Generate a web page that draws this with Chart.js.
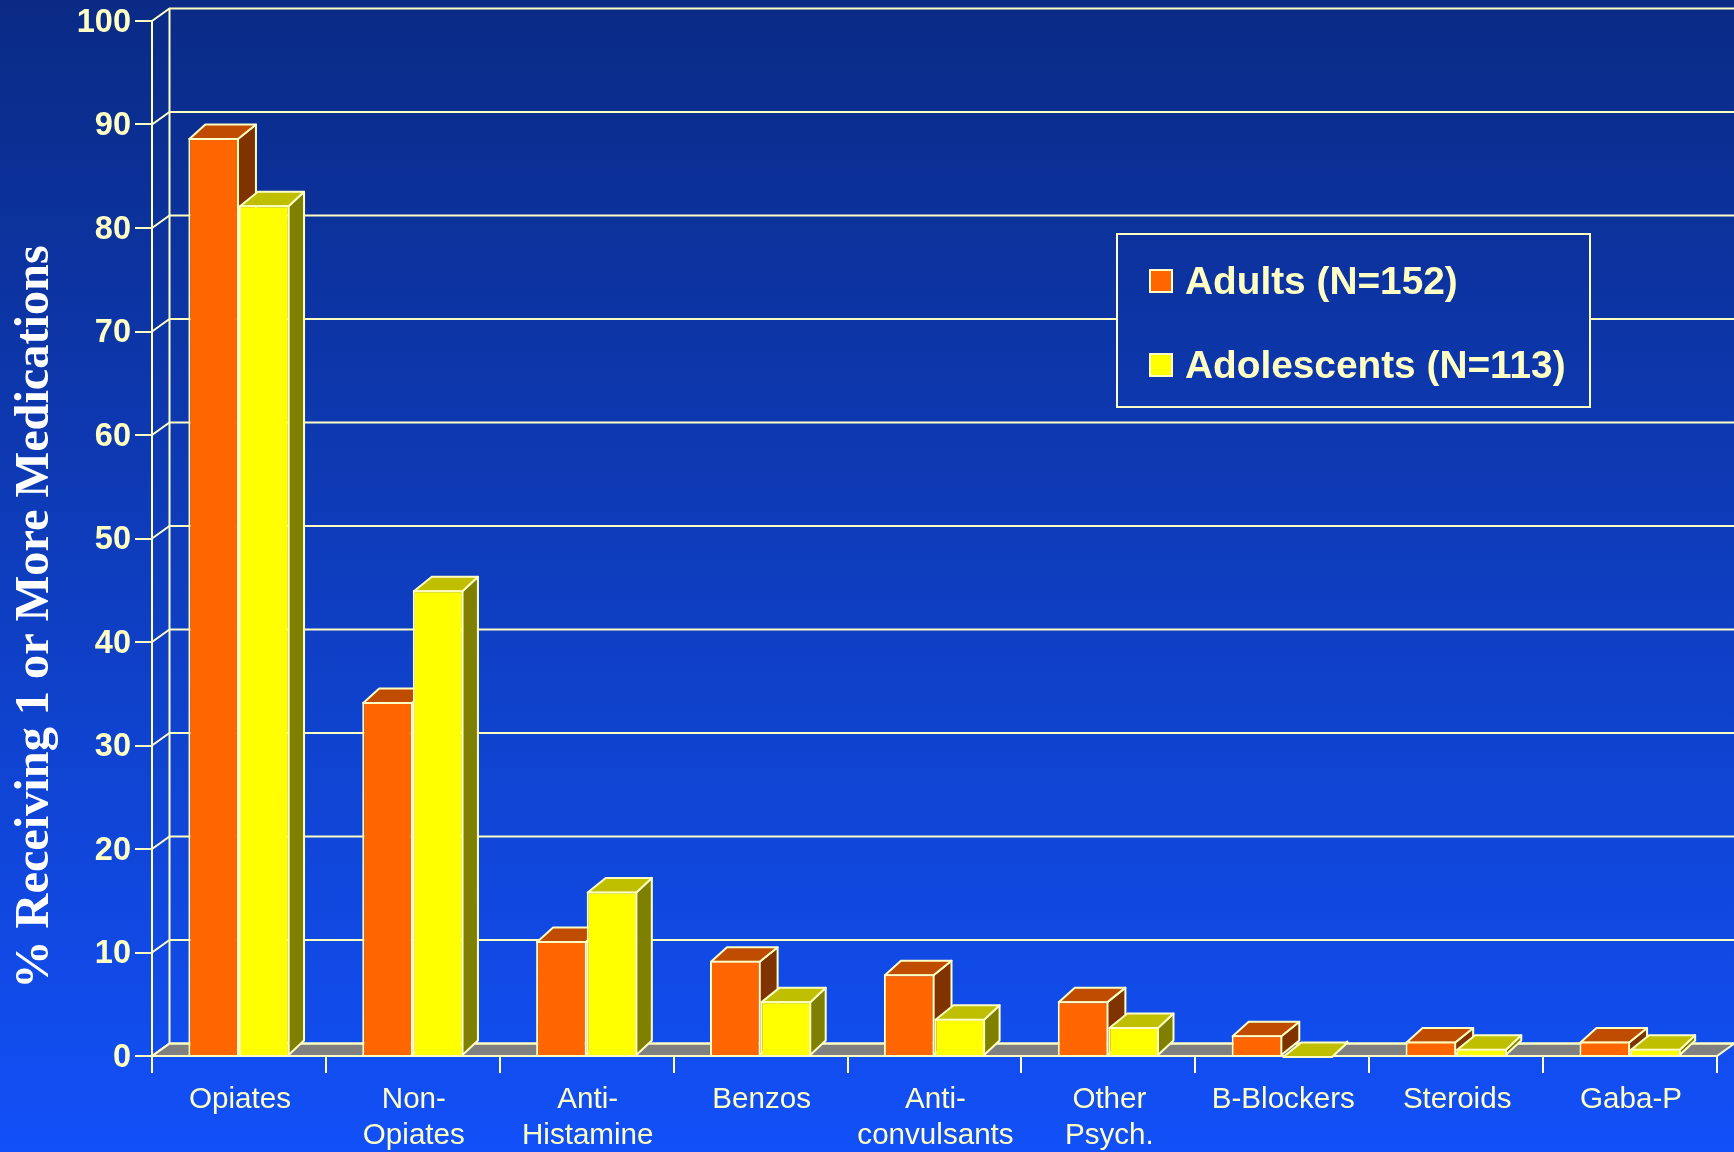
<!DOCTYPE html>
<html>
<head>
<meta charset="utf-8">
<title>Medications</title>
<script src="https://cdn.jsdelivr.net/npm/chart.js@4"></script>
<style>
  html, body { margin: 0; padding: 0; background: #1250f8; }
  canvas { display: block; }
</style>
</head>
<body>
<canvas id="chart" width="1734" height="1152"></canvas>
<script>
const categories = [['Opiates'], ['Non-', 'Opiates'], ['Anti-', 'Histamine'], ['Benzos'], ['Anti-', 'convulsants'], ['Other', 'Psych.'], ['B-Blockers'], ['Steroids'], ['Gaba-P']];
const adults = [88.7, 34.2, 11.1, 9.2, 7.9, 5.3, 2, 1.4, 1.4];
const adolescents = [82.2, 45, 15.9, 5.3, 3.6, 2.8, 0, 0.7, 0.7];
const yTicks = [0, 10, 20, 30, 40, 50, 60, 70, 80, 90, 100];

const CREAM = '#ffffc4';
const WALL_DX = 17.5, WALL_DY = 12.5; // depth of back wall
const BAR_DY = 14.5;

// left/right receding edges differ a little per series
const faces = [
  { top: '#bf4c00', side: '#7f3300', dxLeft: 16, dxRight: 18 },
  { top: '#bfbf00', side: '#808000', dxLeft: 18, dxRight: 15.5 }
];

function backdrop(ctx, height) {
  const g = ctx.createLinearGradient(0, 0, 0, height);
  g.addColorStop(0, '#0a2a85');
  g.addColorStop(1, '#1250f8');
  return g;
}

function poly(ctx, pts, fill) {
  ctx.beginPath();
  pts.forEach((p, i) => i ? ctx.lineTo(p[0], p[1]) : ctx.moveTo(p[0], p[1]));
  ctx.closePath();
  if (fill) {
    ctx.fillStyle = fill;
    ctx.fill();
  }
  ctx.stroke();
}

// gradient page, floor, back wall and the little diagonals up from the y axis
const wallPlugin = {
  id: 'wall',
  beforeDraw(chart) {
    const { ctx, chartArea: a, scales: { y } } = chart;
    ctx.save();
    ctx.fillStyle = backdrop(ctx, chart.height);
    ctx.fillRect(0, 0, chart.width, chart.height);

    ctx.strokeStyle = CREAM;
    ctx.lineWidth = 2;
    const y0 = y.getPixelForValue(0);
    poly(ctx, [[a.left, y0], [a.left + WALL_DX, y0 - WALL_DY], [a.right + WALL_DX, y0 - WALL_DY], [a.right, y0]], '#808080');

    yTicks.forEach(t => {
      const py = y.getPixelForValue(t);
      ctx.beginPath();
      ctx.moveTo(a.left, py);
      ctx.lineTo(a.left + WALL_DX, py - WALL_DY);
      ctx.lineTo(chart.width, py - WALL_DY);
      ctx.stroke();
    });
    ctx.beginPath();
    ctx.moveTo(a.left + WALL_DX, y.getPixelForValue(100) - WALL_DY);
    ctx.lineTo(a.left + WALL_DX, y0 - WALL_DY);
    ctx.stroke();
    ctx.restore();
  }
};

// top and side faces go down first, the library paints the fronts over them
const depthPlugin = {
  id: 'depth',
  beforeDatasetsDraw(chart) {
    const { ctx } = chart;
    ctx.save();
    ctx.strokeStyle = CREAM;
    ctx.lineWidth = 2;
    ctx.lineJoin = 'round';
    chart.data.datasets.forEach((ds, i) => {
      const f = faces[i];
      chart.getDatasetMeta(i).data.forEach(bar => {
        const { x, y, base, width } = bar.getProps(['x', 'y', 'base', 'width'], true);
        const l = x - width / 2 + 1, r = x + width / 2 - 1, t = y + 1;
        poly(ctx, [[r, t], [r + f.dxRight, t - BAR_DY], [r + f.dxRight, base - BAR_DY], [r, base]], f.side);
        poly(ctx, [[l, t], [l + f.dxLeft, t - BAR_DY], [r + f.dxRight, t - BAR_DY], [r, t]], f.top);
      });
    });
    ctx.restore();
  }
};

// y axis caption and the boxed key
const notesPlugin = {
  id: 'notes',
  afterDraw(chart) {
    const { ctx } = chart;
    ctx.save();
    ctx.fillStyle = '#ffffff';
    ctx.font = 'bold 48.3px "Liberation Serif"';
    ctx.textAlign = 'center';
    ctx.textBaseline = 'middle';
    ctx.translate(36, 617);
    ctx.rotate(-Math.PI / 2);
    ctx.fillText('% Receiving 1 or More Medications', 0, 0);
    ctx.restore();

    ctx.save();
    ctx.strokeStyle = CREAM;
    ctx.lineWidth = 2;
    ctx.fillStyle = backdrop(ctx, chart.height);
    ctx.fillRect(1117, 234, 473, 173);
    ctx.strokeRect(1117, 234, 473, 173);
    ctx.font = 'bold 38.8px "Liberation Sans"';
    ctx.textBaseline = 'middle';
    chart.data.datasets.forEach((ds, i) => {
      const cy = 281 + i * 84;
      ctx.fillStyle = ds.backgroundColor;
      ctx.fillRect(1150, cy - 11, 22, 22);
      ctx.strokeRect(1150, cy - 11, 22, 22);
      ctx.fillStyle = CREAM;
      ctx.fillText(ds.label, 1185, cy + 2.5);
    });
    ctx.restore();
  }
};

new Chart(document.getElementById('chart'), {
  type: 'bar',
  data: {
    labels: categories,
    datasets: [
      { label: 'Adults (N=152)', data: adults, backgroundColor: '#ff6600' },
      { label: 'Adolescents (N=113)', data: adolescents, backgroundColor: '#ffff00' }
    ]
  },
  plugins: [wallPlugin, depthPlugin, notesPlugin],
  options: {
    responsive: false,
    animation: false,
    layout: { padding: { top: 21, right: 17, left: 0, bottom: 0 } },
    plugins: { legend: { display: false }, tooltip: { enabled: false } },
    datasets: {
      bar: {
        categoryPercentage: 0.582,
        barPercentage: 1,
        borderColor: CREAM,
        borderWidth: 2
      }
    },
    scales: {
      x: {
        afterFit(scale) { scale.height = 96; },
        grid: { offset: true, drawOnChartArea: false, color: CREAM, lineWidth: 2, tickLength: 17 },
        border: { color: CREAM, width: 2 },
        ticks: {
          color: CREAM,
          maxRotation: 0,
          autoSkip: false,
          padding: 9,
          labelOffset: 1,
          font: { family: '"Liberation Sans"', size: 29.6, lineHeight: 1.22 }
        }
      },
      y: {
        min: 0,
        max: 100,
        afterFit(scale) {
          scale.width = 152;
          // label overhang would otherwise push the plot top down
          scale.paddingTop = 0;
          scale.paddingBottom = 0;
        },
        grid: { drawOnChartArea: false, color: CREAM, lineWidth: 2, tickLength: 17 },
        border: { color: CREAM, width: 2 },
        ticks: {
          color: CREAM,
          stepSize: 10,
          padding: 4,
          labelOffset: 2,
          font: { family: '"Liberation Sans"', size: 32.5, weight: 'bold' }
        }
      }
    }
  }
});
</script>
</body>
</html>
